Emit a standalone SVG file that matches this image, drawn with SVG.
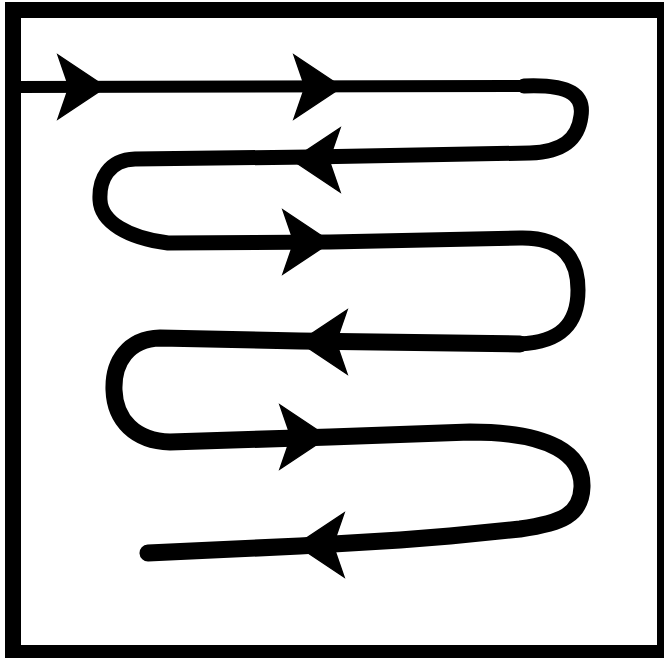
<svg xmlns="http://www.w3.org/2000/svg" xmlns:xlink="http://www.w3.org/1999/xlink" width="664" height="658" viewBox="0 0 664 658">
  <style>
    .trail { fill: none; stroke: #000; stroke-linecap: round; stroke-linejoin: round; }
    .head { fill: #000; stroke: #000; stroke-width: 1.5; stroke-linejoin: miter; }
  </style>
  <defs>
    <path id="ar" class="head" d="M0 0 L-48 -32 L-37 0 L-48 32 Z"/>
  </defs>
  <rect x="0" y="0" width="664" height="658" fill="#fff"/>
  <rect x="5" y="2" width="672" height="660" fill="#000"/>
  <rect x="21" y="18" width="636" height="627" fill="#fff"/>

  <g id="path">
    <path class="trail" stroke-width="12" stroke-linecap="butt" d="M15 87 L528 86"/>
    <path class="trail" stroke-width="15" d="M524 86 C572 84 584 96 581 116 C578 140 562 152 530 153 L310 157 L135 159 C108 160 99 180 100 200 C101 222 128 238 168 243 L330 242 L520 238 C566 237 578 262 578 290 C578 325 560 342 520 344"/>
    <path class="trail" stroke-width="17" d="M520 344 L300 341 L160 338 C128 339 113 362 114 390 C115 420 135 441 170 442 L330 437 L470 432 C552 432 583 455 582 487 C581 515 562 523 520 529 L450 536 L400 540 L300 546 L148 553"/>
  </g>

  <g id="arrows">
    <use xlink:href="#ar" transform="translate(106 87)"/>
    <use xlink:href="#ar" transform="translate(342 87)"/>
    <use xlink:href="#ar" transform="translate(292 160) rotate(180)"/>
    <use xlink:href="#ar" transform="translate(331 242)"/>
    <use xlink:href="#ar" transform="translate(299 342) rotate(180)"/>
    <use xlink:href="#ar" transform="translate(328 437)"/>
    <use xlink:href="#ar" transform="translate(296 545) rotate(180)"/>
  </g>
</svg>
